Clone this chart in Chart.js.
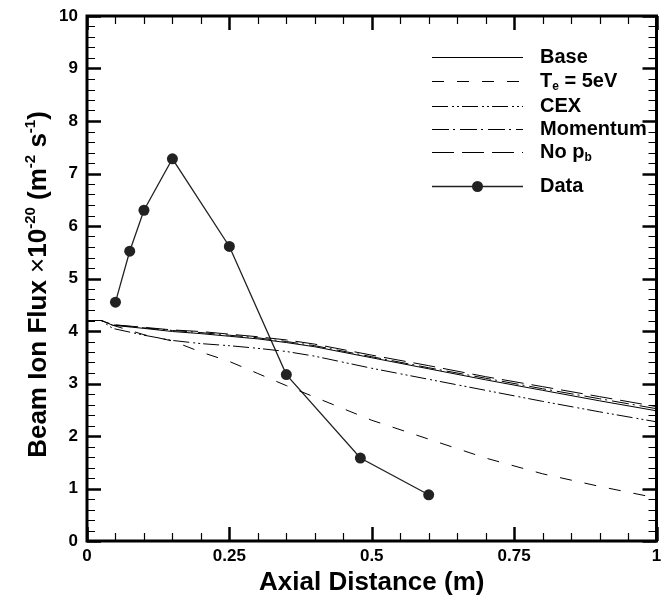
<!DOCTYPE html>
<html>
<head>
<meta charset="utf-8">
<script src="https://cdn.jsdelivr.net/npm/chart.js@4.4.0/dist/chart.umd.min.js"></script>
<style>
  html, body { margin: 0; padding: 0; background: #fff; }
  #wrap { width: 662px; height: 607px; position: relative; }
</style>
</head>
<body>
<div id="wrap"><canvas id="c" width="662" height="607"></canvas></div>
<script>
// Axial positions (m) shared by the model curves
const axialGrid = [0, 0.025, 0.045, 0.1, 0.15, 0.2, 0.25, 0.3, 0.35, 0.4, 0.5, 0.6, 0.7, 0.8, 0.9, 1.0];

// Beam ion flux (x10^20 m^-2 s^-1) for each model case
const baseFlux     = [4.2, 4.2, 4.11, 4.05, 3.99, 3.95, 3.90, 3.85, 3.78, 3.70, 3.49, 3.28, 3.07, 2.87, 2.67, 2.48];
const te5eVFlux    = [4.2, 4.2, 4.11, 3.93, 3.81, 3.60, 3.42, 3.19, 2.96, 2.74, 2.30, 1.94, 1.58, 1.28, 1.04, 0.82];
const cexFlux      = [4.2, 4.2, 4.05, 3.92, 3.82, 3.76, 3.72, 3.67, 3.61, 3.52, 3.29, 3.08, 2.87, 2.66, 2.46, 2.27];
const momentumFlux = [4.2, 4.2, 4.12, 4.06, 4.01, 3.97, 3.92, 3.87, 3.80, 3.72, 3.51, 3.30, 3.10, 2.90, 2.71, 2.52];
const noPbFlux     = [4.2, 4.2, 4.12, 4.07, 4.02, 3.99, 3.94, 3.89, 3.83, 3.75, 3.54, 3.34, 3.13, 2.94, 2.75, 2.56];

// Measured flux
const dataAxial = [0.05, 0.075, 0.1, 0.15, 0.25, 0.35, 0.48, 0.6];
const dataFlux  = [4.55, 5.52, 6.30, 7.28, 5.61, 3.17, 1.58, 0.88];

// Axis tick labels
const xTickValues = [0, 0.25, 0.5, 0.75, 1];
const yTickValues = [0, 1, 2, 3, 4, 5, 6, 7, 8, 9, 10];

const FONT = "'Liberation Sans', Arial, sans-serif";

const dashes = {
  base: [],
  te: [12, 13],
  cex: [16, 4, 2, 3, 2, 3],
  momentum: [17, 4, 2, 5],
  noPb: [22, 8]
};

function series(ys) {
  return axialGrid.map((x, i) => ({ x: x, y: ys[i] }));
}

function modelSet(label, ys, dash) {
  return {
    label: label,
    data: series(ys),
    borderColor: '#000',
    borderWidth: 1,
    borderDash: dash,
    pointRadius: 0,
    fill: false,
    tension: 0
  };
}

const datasets = [
  modelSet('Base', baseFlux, dashes.base),
  modelSet('Te = 5eV', te5eVFlux, dashes.te),
  modelSet('CEX', cexFlux, dashes.cex),
  modelSet('Momentum', momentumFlux, dashes.momentum),
  modelSet('No pb', noPbFlux, dashes.noPb),
  {
    label: 'Data',
    data: dataAxial.map((x, i) => ({ x: x, y: dataFlux[i] })),
    borderColor: '#222',
    borderWidth: 1.3,
    pointRadius: 5.5,
    pointBackgroundColor: '#222',
    pointBorderWidth: 0,
    fill: false,
    tension: 0
  }
];

// Draw a run of text pieces (with super/subscripts) starting at x
function drawRuns(ctx, runs, x, y) {
  let cx = x;
  runs.forEach(r => {
    ctx.font = r.font;
    ctx.fillText(r.t, cx, y + (r.dy || 0));
    cx += ctx.measureText(r.t).width;
  });
  return cx;
}
function runsWidth(ctx, runs) {
  let w = 0;
  runs.forEach(r => { ctx.font = r.font; w += ctx.measureText(r.t).width; });
  return w;
}

const framePlugin = {
  id: 'frameTicksLegend',
  afterDraw(chart) {
    const ctx = chart.ctx;
    const xs = chart.scales.x, ys = chart.scales.y;
    const L = chart.chartArea.left, R = chart.chartArea.right;
    const T = chart.chartArea.top, B = chart.chartArea.bottom;
    ctx.save();
    ctx.strokeStyle = '#000';
    ctx.lineCap = 'butt';

    // inward tick marks on all four sides
    for (let i = 0; i <= 50; i++) {
      const v = i * 0.2;
      const major = i % 5 === 0;
      const py = Math.round(ys.getPixelForValue(v)) + 0.5;
      const len = major ? 14 : 8;
      ctx.lineWidth = major ? 2.5 : 1.2;
      ctx.beginPath();
      ctx.moveTo(L, py); ctx.lineTo(L + len, py);
      ctx.moveTo(R, py); ctx.lineTo(R - len, py);
      ctx.stroke();
    }
    for (let i = 0; i <= 20; i++) {
      const v = i * 0.05;
      const major = i % 5 === 0;
      const px = Math.round(xs.getPixelForValue(v)) + 0.5;
      const len = major ? 14 : 8;
      ctx.lineWidth = major ? 2.5 : 1.2;
      ctx.beginPath();
      ctx.moveTo(px, B); ctx.lineTo(px, B - len);
      ctx.moveTo(px, T); ctx.lineTo(px, T + len);
      ctx.stroke();
    }

    // frame
    ctx.lineWidth = 3;
    ctx.strokeRect(L, T, R - L, B - T);

    // legend
    ctx.fillStyle = '#000';
    ctx.textBaseline = 'middle';
    const lx0 = 432, lx1 = 523, tx = 540;
    const bold = 'bold 20px ' + FONT;
    const sub = 'bold 12px ' + FONT;
    const rows = [
      { y: 57, dash: dashes.base, runs: [{ t: 'Base', font: bold }] },
      { y: 81, dash: dashes.te, runs: [{ t: 'T', font: bold }, { t: 'e', font: sub, dy: 6 }, { t: ' = 5eV', font: bold }] },
      { y: 106, dash: dashes.cex, runs: [{ t: 'CEX', font: bold }] },
      { y: 129, dash: dashes.momentum, runs: [{ t: 'Momentum', font: bold }] },
      { y: 152, dash: dashes.noPb, runs: [{ t: 'No p', font: bold }, { t: 'b', font: sub, dy: 6 }] },
      { y: 186, dash: [], marker: true, runs: [{ t: 'Data', font: bold }] }
    ];
    rows.forEach(r => {
      ctx.lineWidth = r.marker ? 1.3 : 1;
      ctx.strokeStyle = r.marker ? '#222' : '#000';
      ctx.setLineDash(r.dash);
      ctx.beginPath();
      ctx.moveTo(lx0, r.y + 0.5); ctx.lineTo(lx1, r.y + 0.5);
      ctx.stroke();
      ctx.setLineDash([]);
      if (r.marker) {
        ctx.fillStyle = '#222';
        ctx.beginPath();
        ctx.arc((lx0 + lx1) / 2, r.y + 0.5, 5.5, 0, Math.PI * 2);
        ctx.fill();
        ctx.fillStyle = '#000';
      }
      drawRuns(ctx, r.runs, tx, r.y);
    });

    // x-axis title
    ctx.textAlign = 'center';
    ctx.textBaseline = 'middle';
    ctx.font = 'bold 26px ' + FONT;
    ctx.fillText('Axial Distance (m)', (L + R) / 2, 583);

    // y-axis title with superscripts
    ctx.textAlign = 'left';
    ctx.textBaseline = 'alphabetic';
    const big = 'bold 26px ' + FONT;
    const sup = 'bold 15px ' + FONT;
    const yRuns = [
      { t: 'Beam Ion Flux ', font: big },
      { t: '\u00d7', font: '26px ' + FONT },
      { t: '10', font: big },
      { t: '-20', font: sup, dy: -11 },
      { t: ' (m', font: big },
      { t: '-2', font: sup, dy: -11 },
      { t: ' s', font: big },
      { t: '-1', font: sup, dy: -11 },
      { t: ')', font: big }
    ];
    ctx.translate(37, (T + B) / 2 + 6);
    ctx.rotate(-Math.PI / 2);
    const w = runsWidth(ctx, yRuns);
    drawRuns(ctx, yRuns, -w / 2, 9);
    ctx.restore();
  }
};

const tickFont = { family: FONT, weight: 'bold', size: 17 };

new Chart(document.getElementById('c'), {
  type: 'line',
  data: { datasets: datasets },
  options: {
    responsive: false,
    animation: false,
    devicePixelRatio: 1,
    layout: { padding: { top: 16, right: 1, left: 0, bottom: 0 } },
    plugins: { legend: { display: false }, tooltip: { enabled: false } },
    scales: {
      x: {
        type: 'linear',
        min: 0, max: 1,
        afterBuildTicks: s => { s.ticks = xTickValues.map(v => ({ value: v })); },
        grid: { display: false, drawTicks: false },
        border: { display: false },
        ticks: {
          font: tickFont, color: '#000', padding: 5, maxRotation: 0, autoSkip: false,
          callback: v => String(v)
        },
        afterFit: s => { s.height = 66; s.paddingLeft = 0; s.paddingRight = 0; }
      },
      y: {
        type: 'linear',
        min: 0, max: 10,
        afterBuildTicks: s => { s.ticks = yTickValues.map(v => ({ value: v })); },
        grid: { display: false, drawTicks: false },
        border: { display: false },
        ticks: {
          font: tickFont, color: '#000', padding: 9, autoSkip: false,
          callback: v => String(v)
        },
        afterFit: s => { s.width = 87; s.paddingTop = 0; s.paddingBottom = 0; }
      }
    }
  },
  plugins: [framePlugin]
});
</script>
</body>
</html>
